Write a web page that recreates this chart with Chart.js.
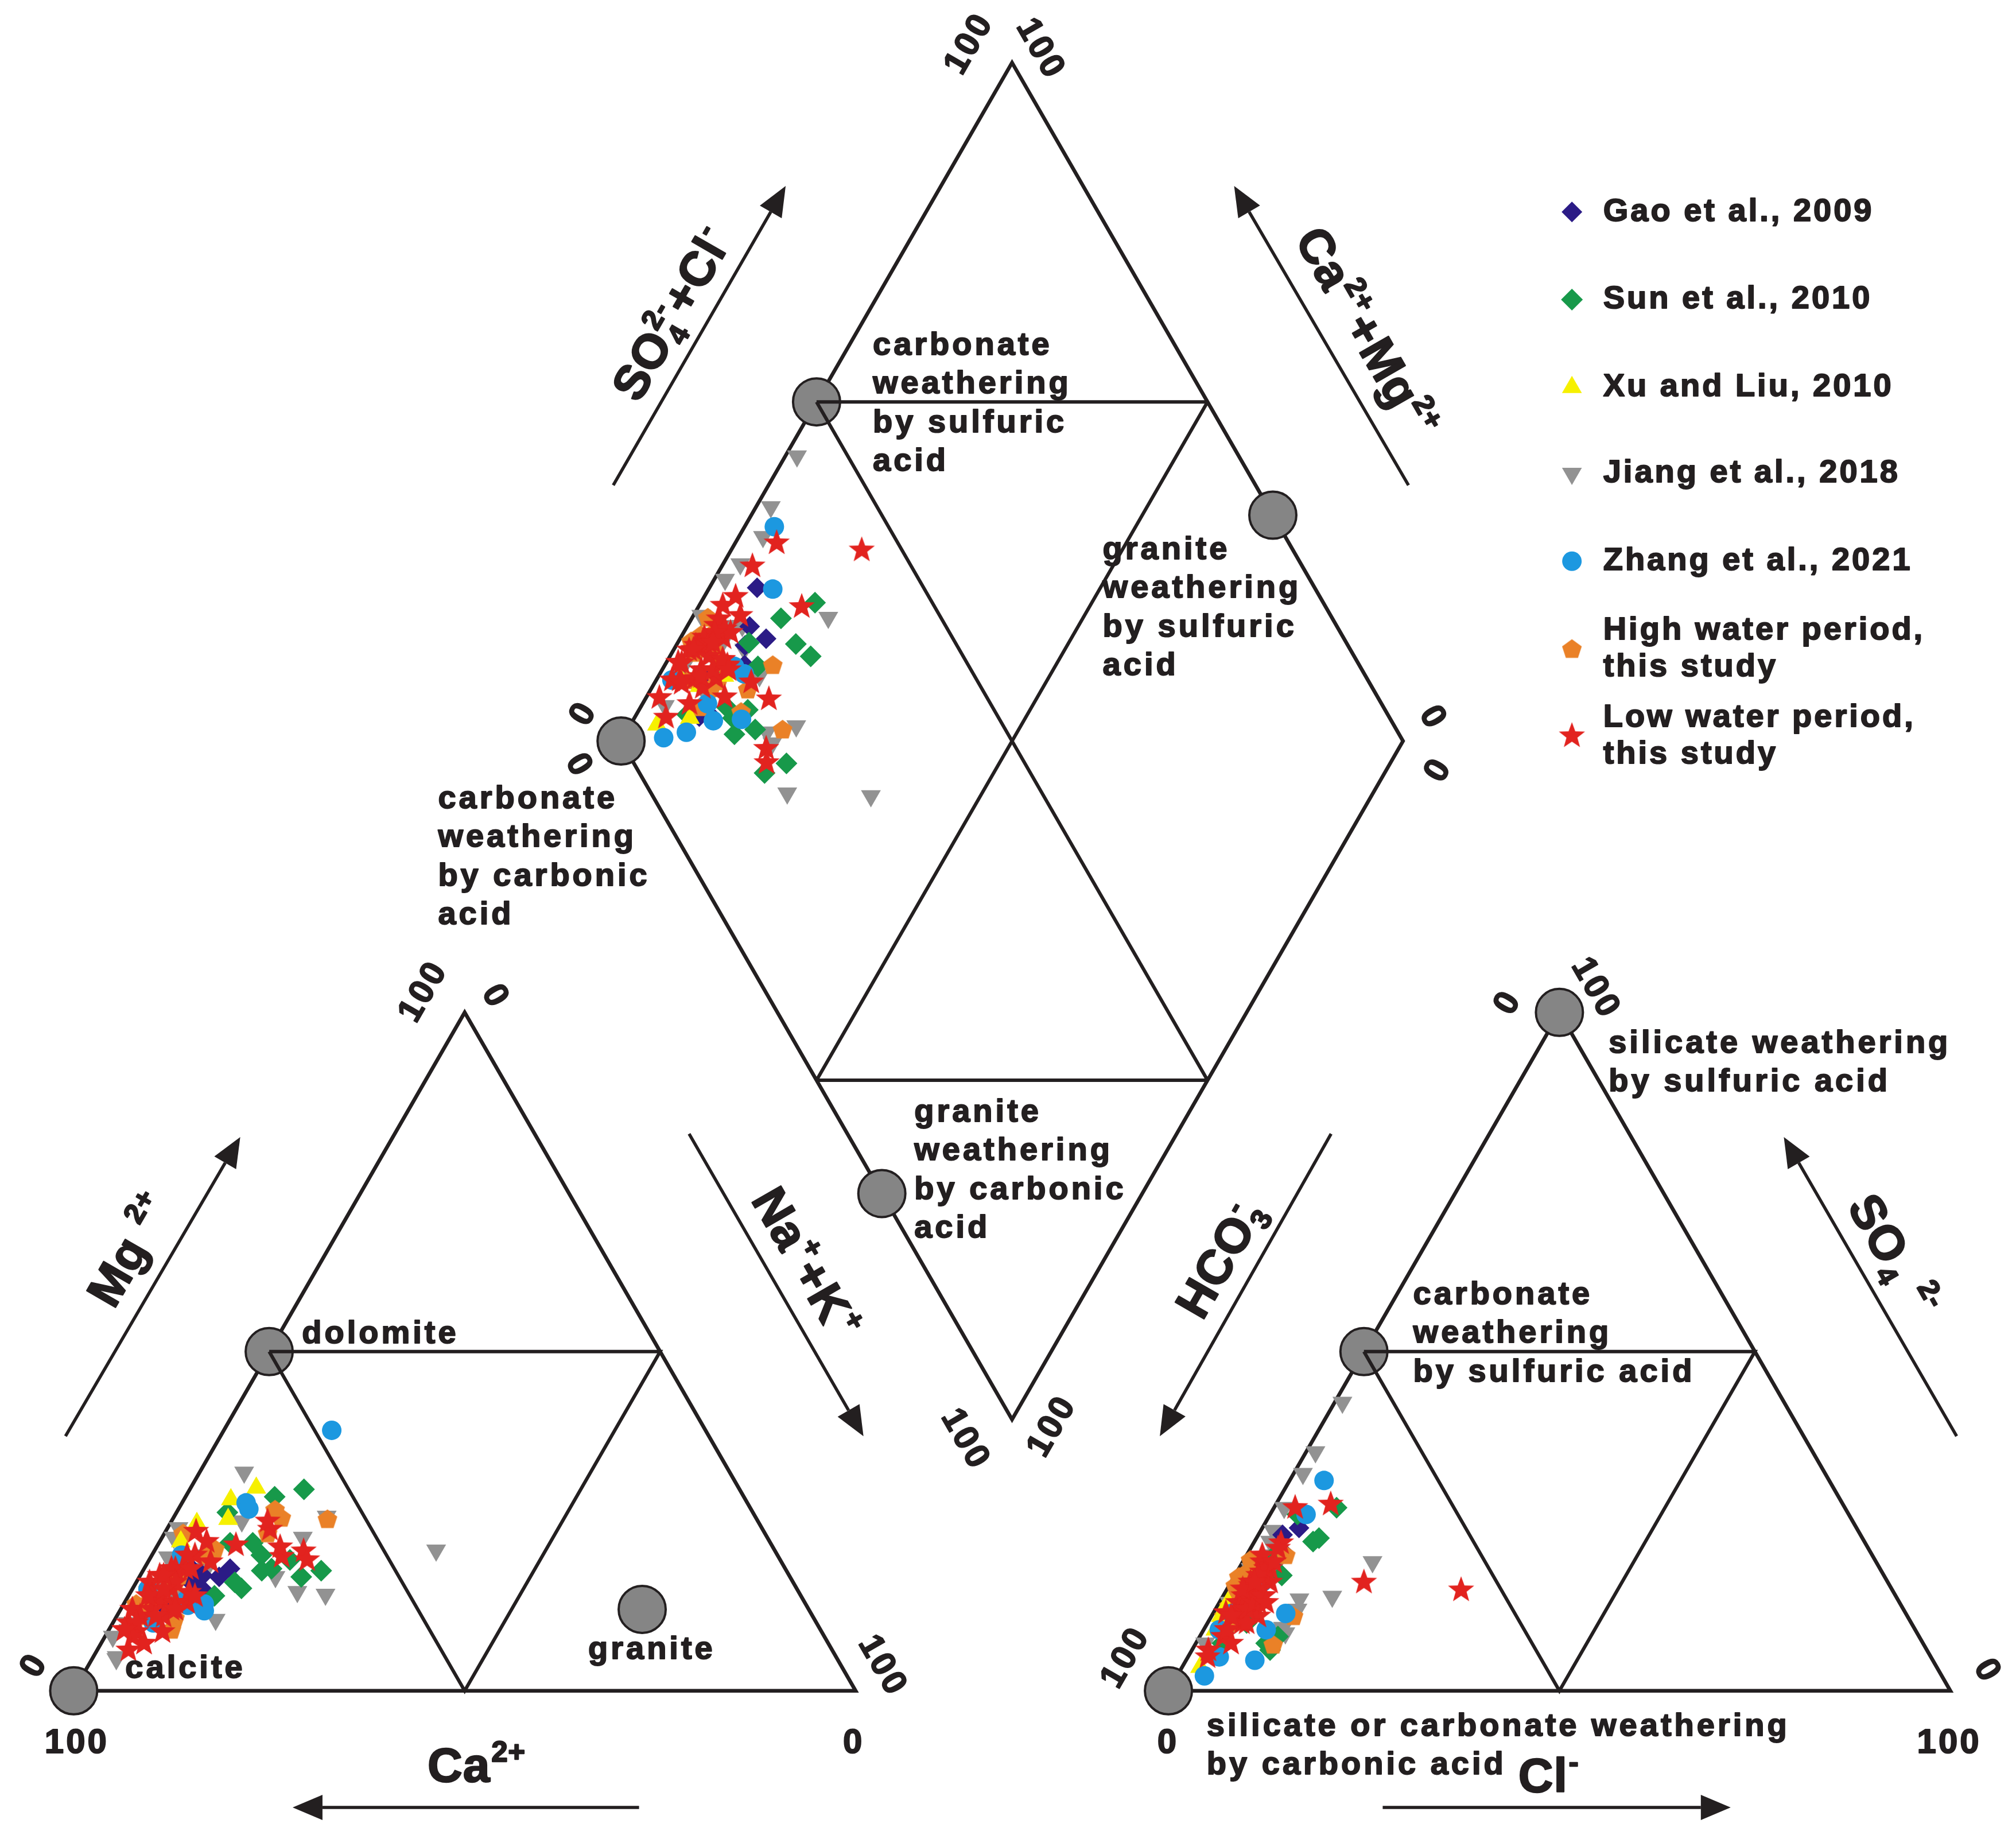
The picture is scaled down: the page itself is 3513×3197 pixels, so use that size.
<!DOCTYPE html>
<html><head><meta charset="utf-8">
<script src="https://cdn.jsdelivr.net/npm/chart.js@4.4.1/dist/chart.umd.min.js"></script>
<style>html,body{margin:0;padding:0;background:#fff;}canvas{display:block;}</style>
</head><body>
<canvas id="c" width="3513" height="3197" style="width:3513px;height:3197px"></canvas>
<script>
// ---------------- DATA (percent of meq) ----------------
// Gao et al., 2009
const gaoMg  = [18, 17, 15.1, 16.8, 13.5, 14.5, 18, 16, 12];
const gaoNaK = [6.1, 8, 8.8, 10.2, 8.2, 9, 11, 7, 6];
const gaoSO4 = [24, 20.5, 19, 18, 9, 10, 23, 14, 12];
const gaoCl  = [4.7, 4.4, 3.9, 3.4, 2.8, 3.2, 3.1, 3, 2.5];
// Sun et al., 2010
const sunMg  = [29.7, 28.6, 17.7, 19.3, 21.8, 21.8, 15.1, 16, 18, 26.3, 16.8, 17.7, 14, 20];
const sunNaK = [14.6, 11.4, 15.2, 18, 12, 9.1, 13.9, 12.6, 16.3, 6.5, 20.7, 22.8, 11, 14];
const sunSO4 = [27, 26, 22, 22.5, 17, 20, 15, 7, 8, 7, 6, 17, 12, 10];
const sunCl  = [8, 3.5, 7.5, 8, 6, 3.6, 3.5, 9, 10, 3.4, 10, 2.5, 4, 5];
// Xu and Liu, 2010
const xuMg  = [24.7, 29.9, 28.2, 25.3, 22];
const xuNaK = [3.4, 8.4, 6, 7.1, 2.7];
const xuSO4 = [3.5, 14, 13, 9, 11];
const xuCl  = [2.3, 4, 1.1, 1.5, 1.2];
// Jiang et al., 2018
const jiangMg  = [22.6, 10, 4.7, 19.7, 24, 16.8, 32.2, 10.5, 25.7, 14.6, 14.2, 20.7, 18, 22.6, 5, 8, 14, 15, 20, 9, 25];
const jiangNaK = [1.5, 1.9, 3.1, 2.2, 1.4, 17.4, 5.7, 12.9, 19.5, 21.3, 25.1, 36, 8, 18, 3, 1, 6, 4, 7, 2.5, 9];
const jiangSO4 = [42.5, 35.2, 32, 27, 23.6, 19, 19, 12, 8.5, 13.5, 9, 13.9, 13, 9.3, 7, 18, 20, 16, 22, 11, 18];
const jiangCl  = [1, 1.2, 1.2, 1.3, 1.6, 16.6, 1.4, 10.5, 10.7, 10, 8.4, 14, 1.3, 10, 1.2, 1.5, 3, 3.5, 2, 2.5, 4.5];
// Zhang et al., 2021
const zhangMg  = [20, 27.7, 10, 13.4, 12.8, 15, 12.6, 38.4, 26.8, 11.8];
const zhangNaK = [3.8, 8.2, 5.2, 7.7, 10.3, 2, 8.3, 13.8, 9, 10.8];
const zhangSO4 = [31, 26, 2.2, 5, 4.5, 9, 11.4, 9, 16, 11.4];
const zhangCl  = [4.4, 4.6, 3.5, 4, 8.8, 2, 2.4, 8, 4, 9.3];
// High water period, this study
const highMg  = [25.5, 25.3, 20.9, 23.2, 12.8, 10.7, 26.7, 16, 23.2, 18, 14, 9, 13, 17, 11, 20, 15];
const highNaK = [13.8, 19.8, 7.6, 2.4, 1.6, 7.6, 12.4, 5, 13.2, 4, 3, 8, 3, 5, 4, 7, 2];
const highSO4 = [20, 11, 13, 17, 15.5, 11, 18.5, 12.5, 15, 19.3, 16.8, 6.8, 14, 17, 10, 16, 19];
const highCl  = [5, 10.5, 2.4, 1, 0.8, 1.6, 1.5, 1.5, 2.5, 0.85, 0.6, 10, 2, 1.5, 3, 2.5, 1.2];
// Low water period, this study
const lowMg  = [18, 19.8, 23.5, 18, 23.8, 25, 21.5, 16, 10, 14, 8.7, 8.7, 13.1, 11, 14.5, 19, 12, 17, 20, 12, 20.6, 21.2, 19.3, 6, 9, 15, 18, 11, 7, 13,
                10, 12, 14, 16, 18, 8, 11, 13, 15, 17, 9, 12, 20, 22, 14];
const lowNaK = [5.3, 16.7, 3.9, 4, 13.2, 12.3, 10, 1.7, 2, 3, 3.65, 7, 4.8, 3, 7.5, 8, 1.5, 2.5, 5.5, 6.5, 19.1, 15.8, 20.2, 4, 2, 5, 3.5, 6, 5.5, 8,
                3, 4, 2.5, 5, 6, 3.5, 5, 6.5, 4, 3, 2, 7, 4.5, 6, 8.5];
const lowSO4 = [27.5, 14.85, 27, 21.8, 16, 16, 12, 6, 13, 15.5, 17.5, 15, 11, 9, 13, 14, 11.5, 14, 17, 10, 13, 18, 11, 5, 8, 12, 19, 7, 10, 16,
                14, 16, 12, 18, 20, 9, 13, 15, 17, 19, 11, 14, 16, 21, 13];
const lowCl  = [7, 30, 2.7, 3.5, 17, 5, 4.5, 2.1, 2.4, 2.8, 3.2, 4, 3, 3, 3.8, 5.2, 1.6, 2.6, 3.7, 4.4, 5, 4, 6, 2.5, 3, 3.5, 2.5, 4.5, 5, 3,
                3, 2.5, 4, 3.5, 2, 3, 4.5, 2, 3, 4, 2.5, 5, 3, 3.5, 6];

const seriesNames = ['Gao et al., 2009', 'Sun et al., 2010', 'Xu and Liu, 2010', 'Jiang et al., 2018',
  'Zhang et al., 2021', 'High water period,\nthis study', 'Low water period,\nthis study'];

// end-member circles (compositions)
const cationNodesMg  = [0, 50, 12];
const cationNodesNaK = [0, 0, 66.7];
const anionNodesSO4  = [0, 50, 100];
const anionNodesCl   = [0, 0, 0];
const diamondNodesNaK = [0, 0, 66.7, 66.7];
const diamondNodesS   = [0, 50, 100, 0];

// ---------------- GEOMETRY (Piper projection) ----------------
const H = Math.sqrt(3) / 2;
const ANION_X0 = 140;            // anion triangle offset (side 100, gap 40)
const DIA_X0 = 70, DIA_Y0 = 100 * H + 20 * Math.sqrt(3);
function cat(mg, nak) { return { x: nak + mg / 2, y: mg * H }; }
function ani(so4, cl) { return { x: ANION_X0 + cl + so4 / 2, y: so4 * H }; }
function dia(nak, s) { return { x: DIA_X0 + (nak + s) / 2, y: DIA_Y0 + (s - nak) * H }; }

const INK = '#231f20';
const FONT = "'Liberation Sans', Arial, Helvetica, sans-serif";

function makeStar(R, r, color) {
  const s = Math.ceil(2 * R + 2), c = document.createElement('canvas'); c.width = c.height = s;
  const g = c.getContext('2d'); g.fillStyle = color; g.beginPath();
  for (let i = 0; i < 10; i++) {
    const a = -Math.PI / 2 + i * Math.PI / 5, rr = i % 2 ? r : R;
    g.lineTo(s / 2 + rr * Math.cos(a), s / 2 + rr * Math.sin(a));
  }
  g.closePath(); g.fill(); return c;
}
function makePent(R, color) {
  const s = Math.ceil(2 * R + 2), c = document.createElement('canvas'); c.width = c.height = s;
  const g = c.getContext('2d'); g.fillStyle = color; g.beginPath();
  for (let i = 0; i < 5; i++) {
    const a = -Math.PI / 2 + i * 2 * Math.PI / 5;
    g.lineTo(s / 2 + R * Math.cos(a), s / 2 + R * Math.sin(a) + 1);
  }
  g.closePath(); g.fill(); return c;
}

const seriesDefs = [
  { mg: gaoMg, nak: gaoNaK, so4: gaoSO4, cl: gaoCl, color: '#2b1b86', style: 'rectRot', r: 18, rot: 0 },
  { mg: sunMg, nak: sunNaK, so4: sunSO4, cl: sunCl, color: '#17994a', style: 'rectRot', r: 19, rot: 0 },
  { mg: xuMg, nak: xuNaK, so4: xuSO4, cl: xuCl, color: '#f6f000', style: 'triangle', r: 20, rot: 0 },
  { mg: jiangMg, nak: jiangNaK, so4: jiangSO4, cl: jiangCl, color: '#929292', style: 'triangle', r: 20, rot: 180 },
  { mg: zhangMg, nak: zhangNaK, so4: zhangSO4, cl: zhangCl, color: '#1c98e0', style: 'circle', r: 17, rot: 0 },
  { mg: highMg, nak: highNaK, so4: highSO4, cl: highCl, color: '#ea8127', style: makePent(18, '#ea8127'), r: 18, rot: 0 },
  { mg: lowMg, nak: lowNaK, so4: lowSO4, cl: lowCl, color: '#e2231f', style: makeStar(24, 10, '#e2231f'), r: 23, rot: 0 }
];
const drawOrder = [9, 8, 6, 10, 5, 7, 4];

const datasets = [];
function frame(pts, w, order) {
  datasets.push({ data: pts, showLine: true, borderColor: INK, borderWidth: w, pointRadius: 0,
    fill: false, tension: 0, order: order, borderJoinStyle: 'miter', borderCapStyle: 'butt' });
}
// outer outlines
frame([cat(0, 0), cat(0, 100), cat(100, 0), cat(0, 0)], 6.5, 100);
frame([ani(0, 0), ani(0, 100), ani(100, 0), ani(0, 0)], 6.5, 100);
frame([dia(0, 0), dia(0, 100), dia(100, 100), dia(100, 0), dia(0, 0)], 6.5, 100);
// end-member circles
const nodes = [];
cationNodesMg.forEach((m, i) => nodes.push(cat(m, cationNodesNaK[i])));
anionNodesSO4.forEach((s, i) => nodes.push(ani(s, anionNodesCl[i])));
diamondNodesNaK.forEach((n, i) => nodes.push(dia(n, diamondNodesS[i])));
datasets.push({ data: nodes, pointRadius: 41, pointBackgroundColor: '#858585', pointBorderColor: INK,
  pointBorderWidth: 4, showLine: false, order: 90 });
// inner division lines
frame([cat(50, 0), cat(50, 50), cat(0, 50), cat(50, 0)], 6, 80);
frame([ani(50, 0), ani(50, 50), ani(0, 50), ani(50, 0)], 6, 80);
frame([dia(0, 50), dia(100, 50)], 6, 80);
frame([dia(50, 0), dia(50, 100)], 6, 80);
frame([dia(0, 50), dia(50, 100)], 6, 80);
frame([dia(50, 0), dia(100, 50)], 6, 80);
// samples
seriesDefs.forEach((s, k) => {
  const pts = [];
  s.mg.forEach((m, i) => pts.push(cat(m, s.nak[i])));
  s.so4.forEach((v, i) => pts.push(ani(v, s.cl[i])));
  s.nak.forEach((n, i) => pts.push(dia(n, s.so4[i] + s.cl[i])));
  datasets.push({ label: seriesNames[k], data: pts, showLine: false, pointStyle: s.style,
    pointRadius: s.r, pointRotation: s.rot, pointBackgroundColor: s.color, backgroundColor: s.color,
    pointBorderWidth: 0, borderWidth: 0, order: drawOrder[k] });
});

// ---------------- ANNOTATIONS (in chart units) ----------------
const ARROWS = [
  [69.0, 153.9, 91.05, 192.1], [170.7, 153.9, 148.4, 192.1],
  [-1.05, 32.5, 21.3, 70.7], [78.7, 71.1, 101.0, 32.5], [72.3, -14.9, 28.0, -14.9],
  [160.8, 71.1, 138.9, 32.5], [240.8, 32.5, 218.7, 70.7], [167.4, -14.9, 211.9, -14.9]
];
const TITLES = [
  { x: 76.4, y: 175.9, rot: -60, parts: [['SO'], ['4', '2-', 'stack'], ['+Cl'], ['-', 'sup']] },
  { x: 165.5, y: 173.4, rot: 60, parts: [['Ca'], ['2+', 'sup'], ['+Mg'], ['2+', 'sup']] },
  { x: 7.1, y: 56.4, rot: -60, parts: [['Mg '], ['2+', 'sup']] },
  { x: 93.8, y: 54.6, rot: 60, parts: [['Na'], ['+', 'sup'], ['+K'], ['+', 'sup']] },
  { x: 51.6, y: -9.4, rot: 0, parts: [['Ca'], ['2+', 'sup']] },
  { x: 146.5, y: 55.3, rot: -60, parts: [['HCO'], ['3', '-', 'stack']] },
  { x: 232.9, y: 55.6, rot: 60, parts: [['SO'], ['4', 'sub'], [' '], ['2-', 'sup']] },
  { x: 188.7, y: -10.7, rot: 0, parts: [['Cl'], ['-', 'sup']] }
];
const TICKS = [
  ['100', 114.5, 210.1, -60], ['100', 123.5, 209.7, 60], ['0', 65.2, 124.6, -60], ['0', 64.5, 118.2, 60],
  ['0', 173.7, 124.3, 60], ['0', 174.5, 117.4, -60], ['100', 113.9, 32.2, 60], ['100', 125.1, 33.6, -60],
  ['100', 44.7, 89.1, -60], ['0', 53.8, 88.7, 60], ['0', -5.05, 3.1, -60], ['100', 0.25, -6.7, 0],
  ['0', 99.6, -6.7, 0], ['100', 103.3, 3.3, 60],
  ['0', 183.4, 87.7, -60], ['100', 194.5, 89.8, 60], ['100', 134.5, 4.1, -60], ['0', 244.6, 2.6, 60],
  ['0', 139.8, -6.7, 0], ['100', 239.7, -6.7, 0]
];
const NOTES = [
  { x: 102.2, y: 171.7, lines: ['carbonate', 'weathering', 'by sulfuric', 'acid'] },
  { x: 131.6, y: 145.6, lines: ['granite', 'weathering', 'by sulfuric', 'acid'] },
  { x: 46.6, y: 113.8, lines: ['carbonate', 'weathering', 'by carbonic', 'acid'] },
  { x: 107.5, y: 73.8, lines: ['granite', 'weathering', 'by carbonic', 'acid'] },
  { x: 29.2, y: 45.5, lines: ['dolomite'] },
  { x: 6.6, y: 2.8, lines: ['calcite'] },
  { x: 65.8, y: 5.2, lines: ['granite'] },
  { x: 196.3, y: 82.6, lines: ['silicate weathering', 'by sulfuric acid'] },
  { x: 171.3, y: 50.5, lines: ['carbonate', 'weathering', 'by sulfuric acid'] },
  { x: 144.9, y: -4.6, lines: ['silicate or carbonate weathering', 'by carbonic acid'] }
];
const LINE_STEP = 4.93;
const LEGEND = { markerX: 191.6, textX: 195.6, rows: [188.8, 177.6, 166.4, 155.4, 144.2, 133.0, 121.9] };

function txt(ctx, s, x, y) { ctx.strokeText(s, x, y); ctx.fillText(s, x, y); }

function drawRich(ctx, cx, cy, rot, parts, size) {
  const small = size * 0.6;
  const big = `bold ${size}px ${FONT}`, sm = `bold ${small}px ${FONT}`;
  const widths = parts.map(p => {
    if (!p[1]) { ctx.font = big; return ctx.measureText(p[0]).width; }
    ctx.font = sm;
    if (p[2] === 'stack') return Math.max(ctx.measureText(p[0]).width, ctx.measureText(p[1]).width) + 4;
    return ctx.measureText(p[0]).width + 4;
  });
  const total = widths.reduce((a, b) => a + b, 0);
  ctx.save(); ctx.translate(cx, cy); ctx.rotate(rot * Math.PI / 180);
  ctx.textAlign = 'left'; ctx.textBaseline = 'alphabetic';
  let x = -total / 2; const base = size * 0.36;
  parts.forEach((p, i) => {
    if (!p[1]) { ctx.font = big; txt(ctx, p[0], x, base); }
    else {
      ctx.font = sm;
      if (p[1] === 'sup') txt(ctx, p[0], x + 2, base - size * 0.42);
      else if (p[1] === 'sub') txt(ctx, p[0], x + 2, base + size * 0.2);
      else { txt(ctx, p[0], x + 2, base + size * 0.2); txt(ctx, p[1], x + 2, base - size * 0.42); }
    }
    x += widths[i];
  });
  ctx.restore();
}

const annotPlugin = {
  id: 'annot',
  afterDatasetsDraw(chart) {
    const { ctx } = chart, sx = chart.scales.x, sy = chart.scales.y;
    const P = (u, v) => [sx.getPixelForValue(u), sy.getPixelForValue(v)];
    ctx.save();
    ctx.fillStyle = INK; ctx.strokeStyle = INK;
    // arrows
    ARROWS.forEach(a => {
      const [x1, y1] = P(a[0], a[1]), [x2, y2] = P(a[2], a[3]);
      const ang = Math.atan2(y2 - y1, x2 - x1), L = 52, W = 22;
      const bx = x2 - L * Math.cos(ang), by = y2 - L * Math.sin(ang);
      ctx.lineWidth = 5.5; ctx.lineCap = 'butt';
      ctx.beginPath(); ctx.moveTo(x1, y1); ctx.lineTo(bx, by); ctx.stroke();
      ctx.beginPath(); ctx.moveTo(x2, y2);
      ctx.lineTo(bx + W * Math.sin(ang), by - W * Math.cos(ang));
      ctx.lineTo(bx - W * Math.sin(ang), by + W * Math.cos(ang));
      ctx.closePath(); ctx.fill();
    });
    ctx.lineJoin = 'round';
    // axis titles
    ctx.lineWidth = 2.5;
    if ('letterSpacing' in ctx) ctx.letterSpacing = '1px';
    TITLES.forEach(t => { const [x, y] = P(t.x, t.y); drawRich(ctx, x, y, t.rot, t.parts, 84); });
    // tick labels
    ctx.lineWidth = 2;
    if ('letterSpacing' in ctx) ctx.letterSpacing = '4px';
    ctx.font = `bold 60px ${FONT}`; ctx.textAlign = 'center'; ctx.textBaseline = 'middle';
    TICKS.forEach(t => {
      const [x, y] = P(t[1], t[2]);
      ctx.save(); ctx.translate(x, y); ctx.rotate(t[3] * Math.PI / 180); txt(ctx, t[0], 2, 0); ctx.restore();
    });
    // notes
    if ('letterSpacing' in ctx) ctx.letterSpacing = '5px';
    ctx.font = `bold 56px ${FONT}`; ctx.textAlign = 'left'; ctx.textBaseline = 'middle';
    NOTES.forEach(n => n.lines.forEach((ln, i) => { const [x, y] = P(n.x, n.y - i * LINE_STEP); txt(ctx, ln, x, y); }));
    // legend
    if ('letterSpacing' in ctx) ctx.letterSpacing = '4px';
    seriesDefs.forEach((s, k) => {
      const lines = seriesNames[k].split('\n');
      const [mx, my] = P(LEGEND.markerX, LEGEND.rows[k]);
      ctx.fillStyle = s.color;
      Chart.helpers.drawPoint(ctx, { pointStyle: s.style, rotation: s.rot, radius: s.r, borderWidth: 0 }, mx, my);
      ctx.fillStyle = INK;
      lines.forEach((ln, i) => {
        const off = lines.length > 1 ? (i - 0.5) * LINE_STEP * 0.95 : 0;
        const [tx, ty] = P(LEGEND.textX, LEGEND.rows[k] - off);
        txt(ctx, ln, tx, ty);
      });
    });
    ctx.restore();
  }
};

new Chart(document.getElementById('c').getContext('2d'), {
  type: 'scatter',
  data: { datasets },
  options: {
    responsive: false, animation: false, devicePixelRatio: 1, events: [],
    layout: { padding: 0, autoPadding: false },
    plugins: { legend: { display: false }, tooltip: { enabled: false } },
    scales: {
      x: { type: 'linear', min: -9.425, max: 248.39, display: false },
      y: { type: 'linear', min: -18.41, max: 215.85, display: false }
    }
  },
  plugins: [annotPlugin]
});
</script>
</body></html>
